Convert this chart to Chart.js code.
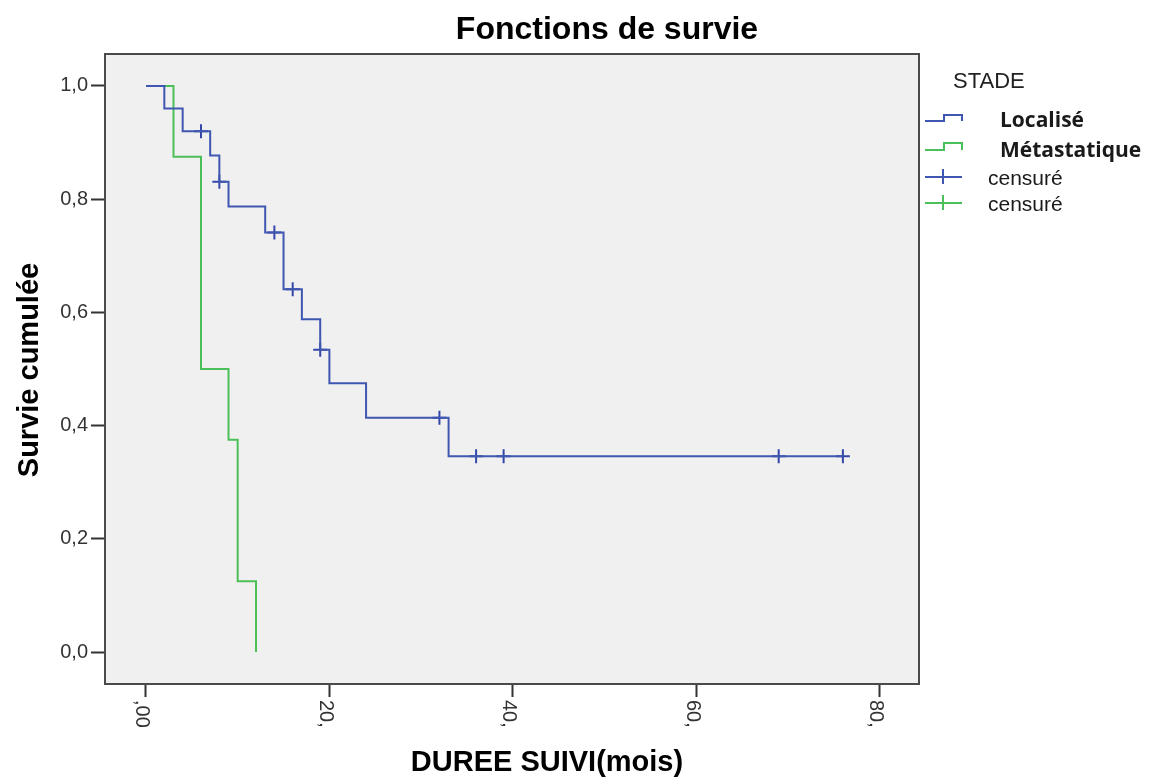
<!DOCTYPE html>
<html>
<head>
<meta charset="utf-8">
<title>Fonctions de survie</title>
<script src="https://cdn.jsdelivr.net/npm/chart.js@4.4.1/dist/chart.umd.min.js"></script>
<style>
  html, body { margin: 0; padding: 0; background: #fff; }
</style>
</head>
<body>
<canvas id="chart" width="1154" height="781"></canvas>
<script>
// Kaplan-Meier, stade localisé
const localiseTimes = [0, 2, 4, 7, 8, 9, 13, 15, 17, 19, 20, 24, 33, 76];
const localiseSurvie = [1, 0.96, 0.92, 0.877, 0.831, 0.787, 0.741, 0.641, 0.588, 0.534, 0.475, 0.414, 0.346, 0.346];
const localiseCensTimes = [6, 8, 14, 16, 19, 32, 36, 39, 69, 76];
const localiseCensSurvie = [0.92, 0.831, 0.741, 0.641, 0.534, 0.414, 0.346, 0.346, 0.346, 0.346];

// stade métastatique
const metaTimes = [0, 3, 6, 9, 10, 12];
const metaSurvie = [1, 0.875, 0.5, 0.375, 0.125, 0];
const metaCensTimes = [];
const metaCensSurvie = [];

const xTicks = [0, 20, 40, 60, 80];
const xTickLabels = [',00', '20,', '40,', '60,', '80,'];
const yTicks = [0, 0.2, 0.4, 0.6, 0.8, 1.0];
const yTickLabels = ['0,0', '0,2', '0,4', '0,6', '0,8', '1,0'];

const legendTitle = 'STADE';
const legendLabels = ['Localisé', 'Métastatique', 'censuré', 'censuré'];

const blue = '#3f57b0';
const green = '#4cc058';
const sans = '"Liberation Sans", Arial, sans-serif';

function toPoints(xs, ys) {
    return xs.map((x, i) => ({ x: x, y: ys[i] }));
}

const decor = {
    id: 'decor',
    beforeDraw(chart) {
        const { ctx, chartArea: a } = chart;
        ctx.save();
        ctx.fillStyle = '#f0f0f0';
        ctx.fillRect(a.left, a.top, a.right - a.left, a.bottom - a.top);
        ctx.restore();
    },
    afterDraw(chart) {
        const { ctx, chartArea: a, scales } = chart;
        ctx.save();

        // cadre
        ctx.strokeStyle = '#4a4a4a';
        ctx.lineWidth = 2;
        ctx.strokeRect(a.left, a.top, a.right - a.left, a.bottom - a.top);

        // étiquettes de l'axe X, tournées de 90° vers la droite
        ctx.fillStyle = '#333';
        ctx.font = '20px ' + sans;
        ctx.textAlign = 'left';
        ctx.textBaseline = 'middle';
        xTicks.forEach((v, i) => {
            const px = scales.x.getPixelForValue(v);
            ctx.save();
            ctx.translate(px, a.bottom + 16);
            ctx.rotate(Math.PI / 2);
            ctx.fillText(xTickLabels[i], 0, 4);
            ctx.restore();
        });

        // titres
        ctx.fillStyle = '#000';
        ctx.textAlign = 'center';
        ctx.font = 'bold 32px ' + sans;
        ctx.fillText('Fonctions de survie', 607, 30);
        ctx.font = 'bold 29px ' + sans;
        ctx.fillText('DUREE SUIVI(mois)', 547, 763);
        ctx.save();
        ctx.translate(30, 370);
        ctx.rotate(-Math.PI / 2);
        ctx.fillText('Survie cumulée', 0, 0);
        ctx.restore();

        // légende
        ctx.fillStyle = '#222';
        ctx.textAlign = 'left';
        ctx.font = '22px ' + sans;
        ctx.fillText(legendTitle, 953, 82);

        ctx.lineWidth = 2;
        const steps = [[blue, 115, 121], [green, 143, 150]];
        steps.forEach(([c, top, low]) => {
            ctx.strokeStyle = c;
            ctx.beginPath();
            ctx.moveTo(925, low);
            ctx.lineTo(944, low);
            ctx.lineTo(944, top);
            ctx.lineTo(962, top);
            ctx.lineTo(962, low);
            ctx.stroke();
        });
        const crosses = [[blue, 177], [green, 203]];
        crosses.forEach(([c, y]) => {
            ctx.strokeStyle = c;
            ctx.beginPath();
            ctx.moveTo(925, y);
            ctx.lineTo(962, y);
            ctx.moveTo(943, y - 8);
            ctx.lineTo(943, y + 7);
            ctx.stroke();
        });

        ctx.fillStyle = '#1a1a1a';
        ctx.font = 'bold 21px "Open Sans", sans-serif';
        ctx.fillText(legendLabels[0], 1000, 121);
        ctx.fillText(legendLabels[1], 1000, 151);
        ctx.font = '21px ' + sans;
        ctx.fillText(legendLabels[2], 988, 179);
        ctx.fillText(legendLabels[3], 988, 205);

        ctx.restore();
    }
};

const ctx = document.getElementById('chart').getContext('2d');
const myChart = new Chart(ctx, {
    type: 'line',
    data: {
        datasets: [{
            label: legendLabels[0],
            data: toPoints(localiseTimes, localiseSurvie),
            borderColor: blue,
            borderWidth: 2,
            stepped: true,
            pointRadius: 0,
            fill: false
        }, {
            label: legendLabels[1],
            data: toPoints(metaTimes, metaSurvie),
            borderColor: green,
            borderWidth: 2,
            stepped: true,
            pointRadius: 0,
            fill: false
        }, {
            label: legendLabels[2],
            data: toPoints(localiseCensTimes, localiseCensSurvie),
            showLine: false,
            pointStyle: 'cross',
            pointRadius: 7,
            pointBorderColor: '#3447a8',
            pointBorderWidth: 2
        }, {
            label: legendLabels[3],
            data: toPoints(metaCensTimes, metaCensSurvie),
            showLine: false,
            pointStyle: 'cross',
            pointRadius: 7,
            pointBorderColor: green,
            pointBorderWidth: 2
        }]
    },
    options: {
        responsive: false,
        animation: false,
        events: [],
        layout: { padding: { top: 54, right: 235, left: 0, bottom: 0 } },
        plugins: {
            legend: { display: false },
            tooltip: { enabled: false }
        },
        scales: {
            x: {
                type: 'linear',
                min: -4.47,
                max: 84.3,
                afterBuildTicks: s => { s.ticks = xTicks.map(v => ({ value: v })); },
                afterFit: s => { s.height = 97; },
                ticks: { display: false },
                grid: {
                    drawOnChartArea: false,
                    drawTicks: true,
                    tickLength: 13,
                    tickColor: '#333',
                    tickWidth: 2
                },
                border: { display: true, color: '#4a4a4a', width: 2 }
            },
            y: {
                type: 'linear',
                min: -0.0565,
                max: 1.0565,
                afterBuildTicks: s => { s.ticks = yTicks.map(v => ({ value: v })); },
                afterFit: s => { s.width = 105; },
                ticks: {
                    callback: (v, i) => yTickLabels[i],
                    font: { family: sans, size: 20 },
                    color: '#333',
                    padding: 3
                },
                grid: {
                    drawOnChartArea: false,
                    drawTicks: true,
                    tickLength: 14,
                    tickColor: '#333',
                    tickWidth: 2
                },
                border: { display: true, color: '#4a4a4a', width: 2 }
            }
        }
    },
    plugins: [decor]
});
</script>
</body>
</html>
